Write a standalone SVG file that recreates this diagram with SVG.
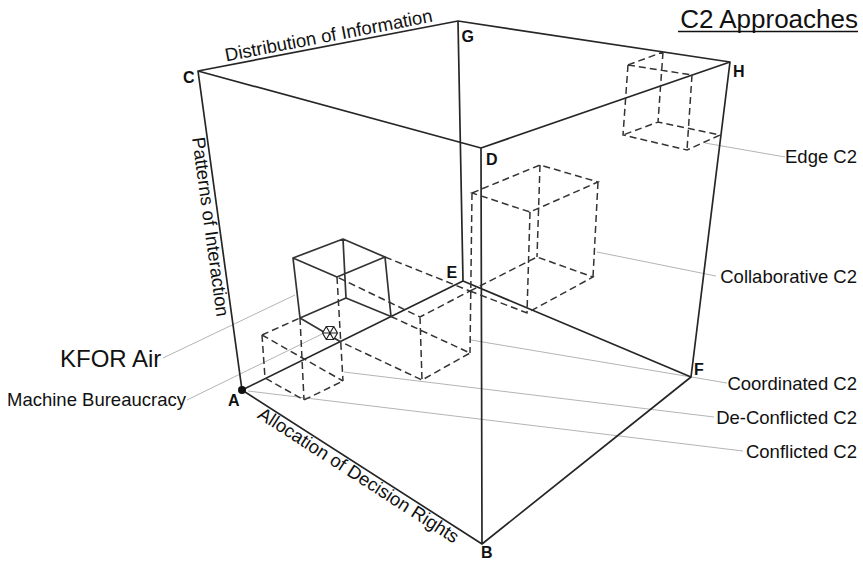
<svg xmlns="http://www.w3.org/2000/svg" width="863" height="561" viewBox="0 0 863 561">
<style>
.frame{stroke:#262626;stroke-width:1.7;fill:none;stroke-linecap:round;stroke-linejoin:round}
.solid{stroke:#333;stroke-width:1.7;fill:none;stroke-linecap:round;stroke-linejoin:round}
.dash{stroke:#333;stroke-width:1.5;fill:none;stroke-dasharray:7 4}
.lead{stroke:#b4b4b4;stroke-width:1;fill:none}
.lbl{font-family:"Liberation Sans",Arial,sans-serif;font-size:18.5px;fill:#111}
.big{font-family:"Liberation Sans",Arial,sans-serif;font-size:24px;fill:#111}
.v{font-family:"Liberation Sans",Arial,sans-serif;font-size:16px;font-weight:bold;fill:#111}
</style>
<rect width="863" height="561" fill="#fff"/>

<g id="connectors">
  <path class="lead" d="M163,358 L295,295"/>
  <path class="lead" d="M187,400 L322,334"/>
  <path class="lead" d="M248,391 L743,451"/>
  <path class="lead" d="M344,372 L714,417"/>
  <path class="lead" d="M471,340 L727,383"/>
  <path class="lead" d="M597,252 L716,276"/>
  <path class="lead" d="M705,143 L785,157"/>
</g>

<g id="c2-space-cube">
  <path class="frame" d="M242,390 L482,544 L691,377 L463,281 Z M198,71 L481,148 L730,62 L458,21 Z M242,390 L198,71 M482,544 L481,148 M691,377 L730,62 M463,281 L458,21"/>
  <circle cx="242" cy="390" r="4" fill="#111"/>
  <text class="v" x="228" y="406">A</text>
  <text class="v" x="481" y="558">B</text>
  <text class="v" x="183" y="83">C</text>
  <text class="v" x="486" y="165">D</text>
  <text class="v" x="446.5" y="278">E</text>
  <text class="v" x="694" y="375">F</text>
  <text class="v" x="461.5" y="42">G</text>
  <text class="v" x="733" y="77">H</text>
  <text class="lbl" transform="translate(226.3,61.5) rotate(-10.9)">Distribution of Information</text>
  <text class="lbl" transform="translate(192,138) rotate(82.15)">Patterns of Interaction</text>
  <text class="lbl" transform="translate(256.6,417.2) rotate(32.7)">Allocation of Decision Rights</text>
</g>

<g id="deconflicted-c2">
  <path class="dash" d="M262,335 L300,318 M262,335 L265,378 L304,400 L343,381 M262,335 L343,381 M300,318 L304,400"/>
</g>

<g id="coordinated-c2">
  <path class="dash" d="M385,257 L470,291 L420,317 L337,277 M391,316.5 L470,353 L422,380 L340,341.5 M420,317 L422,380 M337,277 L343,381"/>
</g>

<g id="collaborative-c2">
  <path class="dash" d="M472,193 L540,165 L598,182 L530,212 Z M470,291 L537,257 L593,277 L527,313 Z M472,193 L470,353 M540,165 L537,257 M598,182 L593,277 M530,212 L527,313"/>
</g>

<g id="edge-c2">
  <path class="dash" d="M628,65 L663,52 M628,65 L692,75 M628,65 L623,135 L687,150 L720,135 L658,122 L623,135 M663,52 L658,122 M692,75 L687,150"/>
</g>

<g id="kfor-air">
  <path class="solid" d="M293,258 L343,239 L385,257 L337,277 Z M293,258 L300,318 M343,239 L346,298 M385,257 L391,316.5 M300,318 L346,298 L391,316.5 M300,318 L340,341.5"/>
</g>

<g id="machine-bureaucracy">
  <path d="M337.5,333 L333.75,339.5 L326.25,339.5 L322.5,333 L326.25,326.5 L333.75,326.5 Z M337.5,333 L322.5,333 M333.75,339.5 L326.25,326.5 M326.25,339.5 L333.75,326.5" fill="#fff" stroke="#222" stroke-width="1.2"/>
</g>

<g id="labels">
  <text class="big" x="60" y="367">KFOR Air</text>
  <text class="lbl" x="7" y="406">Machine Bureaucracy</text>
  <text class="lbl" x="857" y="163" text-anchor="end">Edge C2</text>
  <text class="lbl" x="857" y="283" text-anchor="end">Collaborative C2</text>
  <text class="lbl" x="857" y="390" text-anchor="end">Coordinated C2</text>
  <text class="lbl" x="857" y="424" text-anchor="end">De-Conflicted C2</text>
  <text class="lbl" x="857" y="458" text-anchor="end">Conflicted C2</text>
  <text x="858" y="28" text-anchor="end" font-family="'Liberation Sans',Arial,sans-serif" font-size="26px" fill="#111">C2 Approaches</text>
  <line x1="678" y1="31.5" x2="858" y2="31.5" stroke="#111" stroke-width="1.5"/>
</g>
</svg>
